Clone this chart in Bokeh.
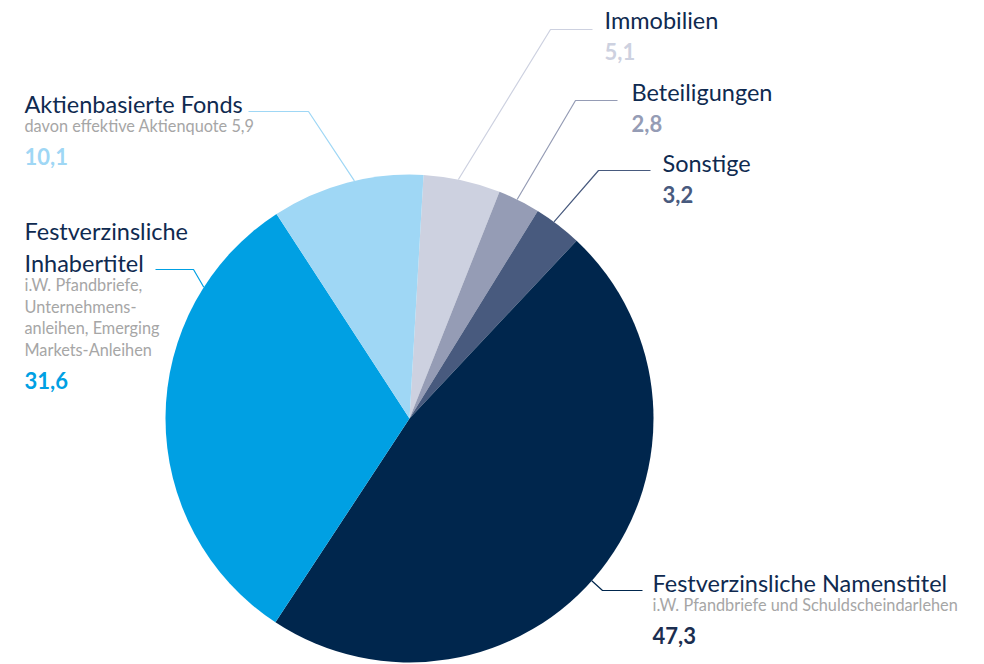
import math
from bokeh.plotting import figure
from bokeh.models import Range1d
from bokeh.core.properties import value
from bokeh.embed import file_html
from bokeh.resources import INLINE

# ---------------- data ----------------
categories = ["Immobilien", "Beteiligungen", "Sonstige",
              "Festverzinsliche Namenstitel", "Festverzinsliche Inhabertitel",
              "Aktienbasierte Fonds"]
shares = [5.1, 2.8, 3.2, 47.3, 31.6, 10.1]
value_labels = ["5,1", "2,8", "3,2", "47,3", "31,6", "10,1"]
title_lines = [["Immobilien"], ["Beteiligungen"], ["Sonstige"],
               ["Festverzinsliche Namenstitel"],
               ["Festverzinsliche", "Inhabertitel"],
               ["Aktienbasierte Fonds"]]
subtitle_lines = [[], [], [],
                  ["i.W. Pfandbriefe und Schuldscheindarlehen"],
                  ["i.W. Pfandbriefe,", "Unternehmens-", "anleihen, Emerging", "Markets-Anleihen"],
                  ["davon effektive Aktienquote 5,9"]]

# ---------------- style / layout ----------------
slice_colors = ["#CDD1E0", "#959CB5", "#485A7E", "#00264D", "#00A0E3", "#9FD7F5"]
value_colors = ["#CDD1E0", "#959CB5", "#485A7E", "#1B2E50", "#00A0E3", "#9FD7F5"]
title_color = "#0F2A50"
sub_color = "#A6A6A6"
FONT = "Lato"

W, H = 984, 664
CX, CY, R = 409, 418, 244
START_DEG = 3.3  # clockwise from 12 o'clock
TEXT_DY = -8.5   # compensate renderer baseline offset

# per slice: text x, title baseline, knee x, end x, line y, attach fraction
text_x = [604, 631, 662, 652, 24, 24]
title_base = [28, 100, 171, 591, 239, 112]
knee_x = [550, 575, 598, 602, 193, 308]
end_x = [592, 617, 650, 642, 155, 248]
line_y = [29, 100, 170, 590, 269, 111]
attach_frac = [0.45, 0.45, 0.4, 0.52, 0.785, 0.55]
title_step = 32
sub_step = 21.5
value_gap = 31

def sx(x):
    return x

def sy(y):
    return -y

p = figure(width=W, height=H, output_backend="svg", toolbar_location=None,
           x_range=Range1d(0, W), y_range=Range1d(-H, 0),
           min_border=0)
p.axis.visible = False
p.grid.visible = False
p.outline_line_color = None
p.background_fill_color = "white"
p.border_fill_color = "white"

total = sum(shares)
cum = START_DEG
starts, ends = [], []
for s in shares:
    a0 = cum
    a1 = cum + s / total * 360.0
    starts.append(a0)
    ends.append(a1)
    cum = a1

def to_rad(theta_cw):
    return math.radians(90.0 - theta_cw)

p.wedge(x=[sx(CX)] * len(shares), y=[sy(CY)] * len(shares), radius=R,
        start_angle=[to_rad(e) for e in ends], end_angle=[to_rad(s) for s in starts],
        direction="anticlock", fill_color=slice_colors, line_color=None)

for i in range(len(shares)):
    th = starts[i] + attach_frac[i] * (ends[i] - starts[i])
    ax = CX + R * math.sin(math.radians(th))
    ay = CY - R * math.cos(math.radians(th))
    lc = slice_colors[i]
    p.line(x=[sx(ax), sx(knee_x[i]), sx(end_x[i])],
           y=[sy(ay), sy(line_y[i]), sy(line_y[i])],
           line_color=lc, line_width=1.2)

    yb = title_base[i]
    for j, t in enumerate(title_lines[i]):
        p.text(x=[sx(text_x[i])], y=[sy(yb + TEXT_DY)], text=[t], text_font=value(FONT),
               text_font_size="23.5px", text_color=title_color,
               text_baseline="alphabetic", text_align="left")
        if j < len(title_lines[i]) - 1:
            yb += title_step
    for t in subtitle_lines[i]:
        yb += sub_step
        p.text(x=[sx(text_x[i])], y=[sy(yb + TEXT_DY)], text=[t], text_font=value(FONT),
               text_font_size="16.3px", text_color=sub_color,
               text_baseline="alphabetic", text_align="left")
    yb += value_gap
    p.text(x=[sx(text_x[i])], y=[sy(yb + TEXT_DY)], text=[value_labels[i]], text_font=value(FONT),
           text_font_size="22px", text_font_style="bold", text_color=value_colors[i],
           text_baseline="alphabetic", text_align="left")

open("out.html", "w").write(file_html(p, INLINE))
